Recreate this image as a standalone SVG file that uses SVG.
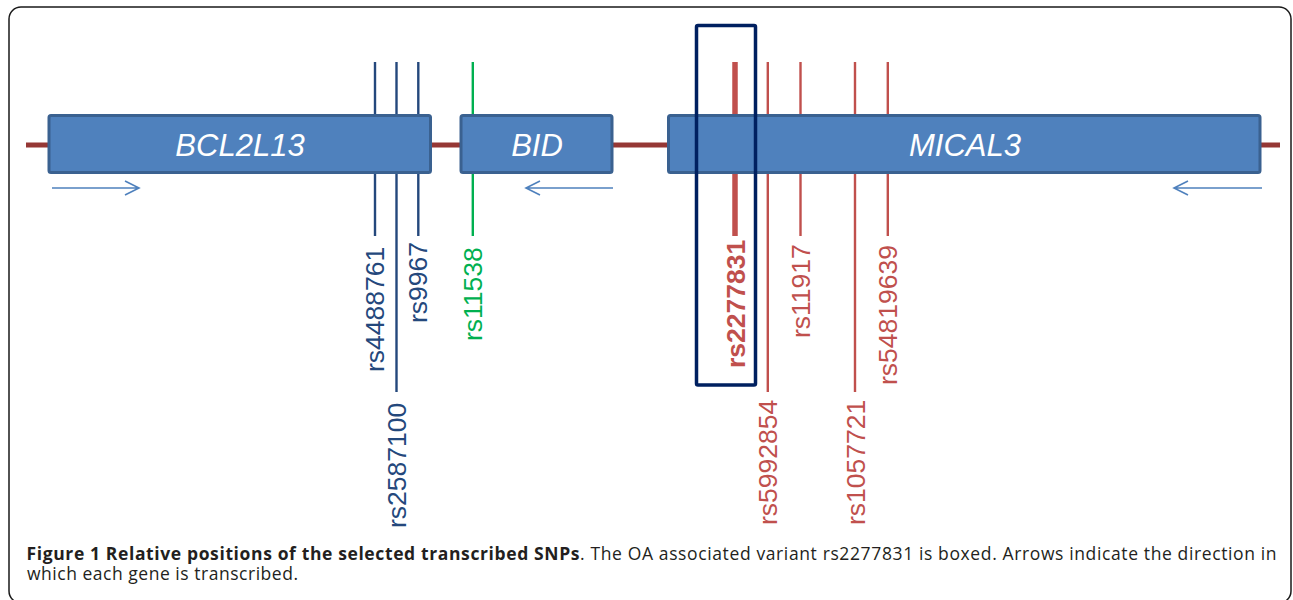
<svg xmlns="http://www.w3.org/2000/svg" width="1293" height="600" viewBox="0 0 1293 600">
<defs>
<style>
.frame{fill:#fff;stroke:#1a1a1a;stroke-width:1.5}
.backbone{stroke:#953735;stroke-width:5;fill:none}
.gene{fill:#4F81BD;stroke:#3A6190;stroke-width:3}
.gname{font-family:"Liberation Sans",Arial,sans-serif;font-style:italic;font-size:31px;fill:#fff;text-anchor:middle}
.dir{stroke:#4F81BD;stroke-width:1.6;fill:none}
.snpB{stroke:#24487C;stroke-width:2.4;fill:none}
.snpG{stroke:#00B050;stroke-width:2.4;fill:none}
.snpR{stroke:#C0504D;stroke-width:2.4;fill:none}
.snpRb{stroke:#C0504D;stroke-width:5.5;fill:none}
.lab{font-family:"Liberation Sans",Arial,sans-serif;font-size:26.5px}
.lB{fill:#24487C}
.lG{fill:#00B050}
.lR{fill:#C0504D}
.hl{fill:none;stroke:#002060;stroke-width:3.5}
.cap{font-family:"Open Sans","Noto Sans",sans-serif;font-size:17.5px;fill:#231F20}
</style>
</defs>
<rect class="frame" x="9" y="7" width="1282" height="596" rx="12" ry="12"/>
<g id="connectors">
<line class="backbone" x1="26" y1="145" x2="1280" y2="145"/>
<line class="snpB" x1="375" y1="62" x2="375" y2="236"/>
<line class="snpB" x1="396.5" y1="62" x2="396.5" y2="392"/>
<line class="snpB" x1="418.3" y1="62" x2="418.3" y2="236"/>
<line class="snpG" x1="472.8" y1="62" x2="472.8" y2="236"/>
<line class="snpRb" x1="735" y1="62" x2="735" y2="236"/>
<line class="snpR" x1="767.8" y1="62" x2="767.8" y2="392"/>
<line class="snpR" x1="800.5" y1="62" x2="800.5" y2="236"/>
<line class="snpR" x1="855" y1="62" x2="855" y2="392"/>
<line class="snpR" x1="887.8" y1="62" x2="887.8" y2="236"/>
<path class="dir" d="M52 188H139M125 181L139 188L125 195"/>
<path class="dir" d="M613 188H526M540 181L526 188L540 195"/>
<path class="dir" d="M1262 188H1174M1188 181L1174 188L1188 195"/>
</g>
<g id="gene-BCL2L13">
<rect class="gene" x="49" y="115.5" width="381.5" height="57" rx="2"/>
<text class="gname" x="240" y="156">BCL2L13</text>
</g>
<g id="gene-BID">
<rect class="gene" x="461" y="115.5" width="151" height="57" rx="2"/>
<text class="gname" x="537" y="156">BID</text>
</g>
<g id="gene-MICAL3">
<rect class="gene" x="668.5" y="115.5" width="591.5" height="57" rx="2"/>
<text class="gname" x="965" y="156">MICAL3</text>
</g>
<g id="snp-labels">
<text class="lab lB" transform="translate(383.5,372) rotate(-90)">rs4488761</text>
<text class="lab lB" transform="translate(405.5,528) rotate(-90)">rs2587100</text>
<text class="lab lB" transform="translate(427,323) rotate(-90)">rs9967</text>
<text class="lab lG" transform="translate(482,341) rotate(-90)">rs11538</text>
<text class="lab lR" font-weight="bold" transform="translate(744.5,368) rotate(-90)">rs2277831</text>
<text class="lab lR" transform="translate(777,525) rotate(-90)">rs5992854</text>
<text class="lab lR" transform="translate(810,338) rotate(-90)">rs11917</text>
<text class="lab lR" transform="translate(864.5,525) rotate(-90)">rs1057721</text>
<text class="lab lR" transform="translate(897,385) rotate(-90)">rs54819639</text>
</g>
<g id="highlight">
<rect class="hl" x="696.5" y="25.5" width="59" height="359.5" rx="1.5"/>
</g>
<g id="caption">
<text class="cap" x="26.5" y="559.5" textLength="1250" lengthAdjust="spacing"><tspan font-weight="bold">Figure 1 Relative positions of the selected transcribed SNPs</tspan>. The OA associated variant rs2277831 is boxed. Arrows indicate the direction in</text>
<text class="cap" x="27" y="580" textLength="271" lengthAdjust="spacing">which each gene is transcribed.</text>
</g>
</svg>
